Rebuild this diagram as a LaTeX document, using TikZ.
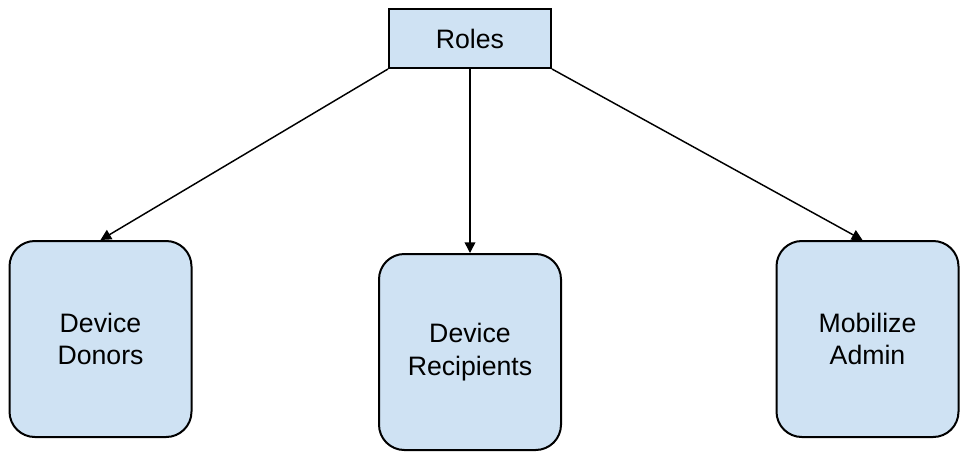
\documentclass[tikz,border=0pt]{standalone}
\usepackage{fontspec}
\setmainfont{Liberation Sans}
\usetikzlibrary{arrows.meta,calc}
\definecolor{boxfill}{HTML}{CFE2F3}
\begin{document}
\begin{tikzpicture}[x=0.75pt,y=-0.75pt,
  rolebox/.style={draw=black,line width=1.5pt,fill=boxfill,minimum width=121.5pt,minimum height=44.25pt,inner sep=0pt,font=\fontsize{20}{24.5}\selectfont},
  rbox/.style={draw=black,line width=1.5pt,fill=boxfill,rounded corners=19pt,minimum width=136.5pt,minimum height=147pt,inner sep=0pt,align=center,font=\fontsize{20}{24.5}\selectfont},
  conn/.style={line width=1.1pt,-{Triangle[width=8pt,length=8pt]}}]
\useasboundingbox (0,0) rectangle (968,455);
\node[rolebox] (roles) at (470,38.5) {Roles};
\node[rbox] (donors) at (100.5,339) {Device\\Donors};
\node[rbox] (recip) at (470,352) {Device\\Recipients};
\node[rbox] (admin) at (867.5,339) {Mobilize\\Admin};
\draw[conn] (roles.south west) -- (donors.north);
\draw[conn] (roles.south) -- (recip.north);
\draw[conn] (roles.south east) -- ($(admin.north)+(-5,0)$);
\end{tikzpicture}
\end{document}
